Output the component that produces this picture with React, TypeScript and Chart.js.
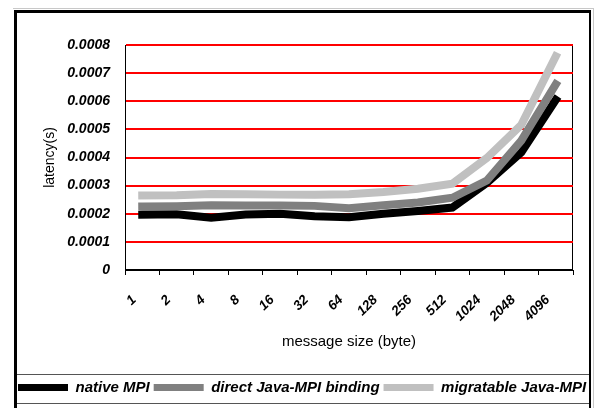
import { useEffect, useRef } from 'react';
import { Chart, registerables } from 'chart.js';

Chart.register(...registerables);

const categories = ['1', '2', '4', '8', '16', '32', '64', '128', '256', '512', '1024', '2048', '4096'];
const nativeMPI = [0.000197, 0.000198, 0.000186, 0.000197, 0.0002, 0.000191, 0.000188, 0.0002, 0.00021, 0.000222, 0.00031, 0.000418, 0.000605];
const directJavaMPI = [0.000226, 0.000227, 0.00023, 0.000229, 0.000229, 0.000228, 0.00022, 0.00023, 0.00024, 0.000257, 0.000318, 0.00046, 0.00066];
const migratableJavaMPI = [0.000265, 0.000266, 0.00027, 0.000269, 0.000268, 0.000268, 0.000269, 0.000277, 0.000289, 0.000307, 0.000398, 0.000516, 0.00076];
const seriesNames = ['native MPI', 'direct Java-MPI binding', 'migratable Java-MPI'];
const seriesColors = ['#000000', '#808080', '#c0c0c0'];
const yTickValues = [0, 0.0001, 0.0002, 0.0003, 0.0004, 0.0005, 0.0006, 0.0007, 0.0008];
const yTitle = 'latency(s)';
const xTitle = 'message size (byte)';

const FONT = "'Liberation Sans', Arial, sans-serif";

const framePlugin = {
  id: 'frame',
  beforeDraw(chart: any) {
    const { ctx, chartArea: a, width, height } = chart;
    ctx.save();
    ctx.fillStyle = '#ffffff';
    ctx.fillRect(0, 0, width, height);
    ctx.fillStyle = '#c8c8c8';
    ctx.fillRect(13, 8, 581, 1);
    ctx.fillRect(593, 8, 1, height - 8);
    ctx.fillStyle = '#000000';
    ctx.fillRect(14, 10, 3, height - 10);
    ctx.fillRect(14, 10, 577, 3);
    ctx.fillRect(589, 10, 2, height - 10);
    const lg = chart.legend;
    if (lg) {
      ctx.fillStyle = '#555555';
      ctx.fillRect(17, Math.round(lg.top) - 2, 572, 1);
      ctx.fillRect(17, Math.round(lg.bottom) - 2, 572, 1);
    }
    ctx.strokeStyle = '#000000';
    ctx.lineWidth = 1;
    ctx.strokeRect(a.left + 0.5, a.top + 0.5, a.right - a.left - 1, a.bottom - a.top - 1);
    ctx.restore();
  },
};

export default function App() {
  const ref = useRef<HTMLCanvasElement>(null);

  useEffect(() => {
    if (!ref.current) return;
    const seriesData = [nativeMPI, directJavaMPI, migratableJavaMPI];
    const chart = new Chart(ref.current, {
      type: 'line',
      data: {
        labels: categories,
        datasets: seriesNames.map((name, i) => ({
          label: name,
          data: seriesData[i],
          borderColor: seriesColors[i],
          backgroundColor: seriesColors[i],
          borderWidth: 8,
          pointRadius: 0,
          pointHoverRadius: 0,
          tension: 0,
          borderCapStyle: 'square' as const,
          order: seriesNames.length - i,
        })),
      },
      options: {
        animation: false,
        responsive: false,
        devicePixelRatio: 1,
        layout: { padding: { left: 14, right: 0, top: 45, bottom: 3 } },
        plugins: {
          tooltip: { enabled: false },
          legend: {
            display: true,
            position: 'bottom',
            align: 'start',
            labels: {
              boxWidth: 50,
              boxHeight: 7,
              padding: 4,
              color: '#000000',
              font: { family: FONT, size: 15, weight: 'bold', style: 'italic' },
              sort: (a: any, b: any) => a.datasetIndex - b.datasetIndex,
              generateLabels: (c: any) =>
                Chart.defaults.plugins.legend.labels.generateLabels(c).map((l: any) => ({
                  ...l,
                  lineWidth: 0,
                  strokeStyle: 'rgba(0,0,0,0)',
                })),
            },
          },
        },
        scales: {
          x: {
            type: 'category',
            offset: true,
            grid: {
              offset: true,
              drawOnChartArea: false,
              drawTicks: true,
              tickLength: 5,
              color: '#000000',
              lineWidth: 1,
            },
            border: { display: true, color: '#000000', width: 1 },
            ticks: {
              autoSkip: false,
              minRotation: 45,
              maxRotation: 45,
              padding: 17,
              labelOffset: -8,
              color: '#000000',
              font: { family: FONT, size: 13.5, weight: 'bold', style: 'italic' },
            },
            title: {
              display: true,
              text: xTitle,
              color: '#000000',
              font: { family: FONT, size: 15 },
              padding: { top: 0, bottom: 25 },
            },
            afterFit: (s: any) => {
              s.height = 106;
            },
          },
          y: {
            type: 'linear',
            min: 0,
            max: 0.0008,
            afterBuildTicks: (s: any) => {
              s.ticks = yTickValues.map((v) => ({ value: v }));
            },
            grid: {
              color: (c: any) => (c.tick && c.tick.value === 0 ? 'rgba(0,0,0,0)' : '#ff0000'),
              lineWidth: 2,
              drawTicks: false,
            },
            border: { display: true, color: '#000000', width: 1 },
            ticks: {
              padding: 15,
              color: '#000000',
              font: { family: FONT, size: 14, weight: 'bold', style: 'italic' },
              callback: (v: any) => (Number(v) === 0 ? '0' : Number(v).toFixed(4)),
            },
            title: {
              display: true,
              text: yTitle,
              color: '#000000',
              font: { family: FONT, size: 14 },
              padding: { top: 28, bottom: 0 },
            },
            afterFit: (s: any) => {
              s.width = 111;
            },
          },
          yPad: {
            type: 'linear',
            position: 'right',
            display: true,
            grid: { display: false, drawTicks: false },
            border: { display: false },
            ticks: { display: false },
            afterFit: (s: any) => {
              s.width = 21;
            },
          },
        },
      },
      plugins: [framePlugin],
    } as any);
    return () => chart.destroy();
  }, []);

  return (
    <div style={{ position: 'fixed', left: 0, top: 0, width: 594, height: 408, background: '#fff' }}>
      <canvas ref={ref} width={594} height={408} style={{ display: 'block', width: 594, height: 408 }} />
    </div>
  );
}
